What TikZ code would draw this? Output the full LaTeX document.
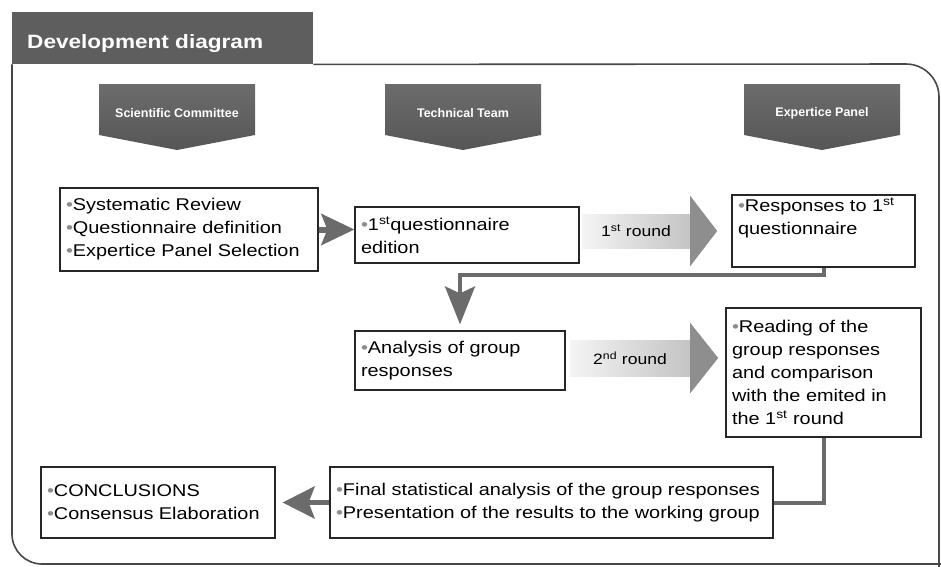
\documentclass[tikz,border=0pt]{standalone}
\usepackage{fontspec}
\setmainfont{Liberation Sans}[FakeStretch=1.17]
\newfontfamily\headfont{Liberation Sans}
\usetikzlibrary{arrows.meta}

\definecolor{tabgray}{HTML}{5E5E5E}
\definecolor{headtop}{HTML}{6C6C6C}
\definecolor{headbot}{HTML}{565656}
\definecolor{linkgray}{HTML}{6B6B6B}
\definecolor{dotgray}{HTML}{8C8C8C}
\definecolor{shaftleft}{HTML}{F4F4F4}
\definecolor{shaftright}{HTML}{C4C4C4}
\definecolor{tipgray}{HTML}{8E8E8E}
\definecolor{framegray}{HTML}{474747}

\newcommand{\itm}{{\color{dotgray}\textbullet}}
\newcommand{\boxtext}[4]{\begin{minipage}[c][#2][#3]{#1}\raggedright #4\end{minipage}}

\tikzset{
  box/.style={draw=black!85, line width=1.2pt, fill=white, inner xsep=6pt, inner ysep=0pt,
    font=\fontsize{17}{23}\selectfont},
  headtext/.style={text=white, font=\headfont\bfseries\fontsize{12.5}{14}\selectfont},
  roundshaft/.style={left color=shaftleft, right color=shaftright, inner sep=0pt,
    font=\fontsize{15}{15}\selectfont},
  link/.style={draw=linkgray, line width=4pt},
}

\begin{document}
\begin{tikzpicture}[x=1pt,y=-1pt]
  \useasboundingbox (0,0) rectangle (941,566);
  % title tab and frame
  \node[fill=tabgray, minimum width=301pt, minimum height=52pt, anchor=north west, inner sep=0pt] (tab) at (12,12) {};
  \node[text=white, font=\bfseries\fontsize{19.3}{20}\selectfont, anchor=base west, inner sep=0pt] (title) at (27,48) {Development diagram};
  \draw[framegray, line width=1.6pt, rounded corners=30pt] (tab.south west) -- (12,564) -- (960,564);
  \draw[framegray, line width=1.6pt, rounded corners=33pt] (tab.south east) -- (939,64) -- (939,600);

  % column headers
  \foreach \x/\name/\txt in {177/hsc/Scientific Committee, 463/htt/Technical Team, 822/hep/Expertice Panel}{
    \shade[top color=headtop, bottom color=headbot] (\x-78,84) -- (\x+78,84) -- (\x+78,135) -- (\x,150) -- (\x-78,135) -- cycle;
    \node[headtext] (\name) at (\x,113) {\txt};
  }

  % boxes
  \node[box] (b1) at (189,229.5) {\boxtext{246pt}{83pt}{c}{\itm Systematic Review\\ \itm Questionnaire definition\\ \itm Expertice Panel Selection}};
  \node[box] (b2) at (467,235) {\boxtext{212pt}{56pt}{c}{\itm 1\textsuperscript{st}questionnaire\\ edition}};
  \node[box] (b3) at (823.5,231) {\boxtext{171pt}{72pt}{t}{\vspace*{3pt}\itm Responses to 1\textsuperscript{st}\\ questionnaire}};
  \node[box] (b4) at (460,360.5) {\boxtext{198pt}{59pt}{c}{\itm Analysis of group\\ responses}};
  \node[box] (b5) at (823.5,372.5) {\boxtext{183pt}{129pt}{c}{\itm Reading of the\\ group responses\\ and comparison\\ with the emited in\\ the 1\textsuperscript{st} round}};
  \node[box] (b6) at (551.5,502.5) {\boxtext{431pt}{71pt}{c}{\itm Final statistical analysis of the group responses\\ \itm Presentation of the results to the working group}};
  \node[box] (b7) at (158,502.5) {\boxtext{222pt}{71pt}{c}{\itm CONCLUSIONS\\ \itm Consensus Elaboration}};

  % rounds
  \node[roundshaft, minimum width=108pt, minimum height=34pt] (r1) at (636,231) {1\textsuperscript{st} round};
  \fill[tipgray] ([yshift=18pt]r1.north east) -- ([xshift=27pt]r1.east) -- ([yshift=-18pt]r1.south east) -- cycle;
  \node[roundshaft, minimum width=120pt, minimum height=36pt] (r2) at (630,358) {2\textsuperscript{nd} round};
  \fill[tipgray] ([yshift=17pt]r2.north east) -- ([xshift=28pt]r2.east) -- ([yshift=-17pt]r2.south east) -- cycle;

  % connectors
  \draw[link, line width=6pt, -{Stealth[length=33pt,width=31pt,inset=6pt]}] (b1.east) -- (b1.east -| b2.west);
  \draw[link, -{Stealth[length=38pt,width=30pt,inset=7pt]}, shorten >=6pt] (b3.south) -- ++(0,7) -| (b4.north);
  \draw[link] (b5.south) |- (b6.east);
  \draw[link, line width=5pt, -{Stealth[length=32pt,width=32pt,inset=6pt]}, shorten >=7pt] (b6.west) -- (b7.east);
\end{tikzpicture}
\end{document}
